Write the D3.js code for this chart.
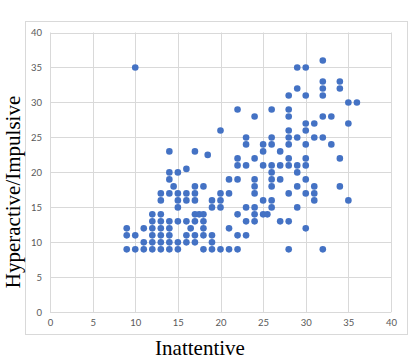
<!DOCTYPE html>
<html>
<head>
<meta charset="utf-8">
<script src="https://cdn.jsdelivr.net/npm/d3@7"></script>
<style>
  html, body { margin: 0; padding: 0; background: #ffffff; }
  svg { display: block; }
</style>
</head>
<body>
<div id="chart"></div>
<script>
// ---- data ----
const inattentive = [
  9,10,11,12,13,14,15,18,19,20,21,22,28,32,
  11,12,13,14,15,16,17,19,
  9,10,12,13,14,16,17,18,19,22,23,
  9,11,12,13,14,16.5,18,21,30,
  12,13,14,15,16,17,18,23,24,27,28,
  12,13,17,17.5,18,22,24,25,25.5,
  15,19,20,23,24,26,29,
  13,15,16,17,19,20,25,26,31,35,
  13,14,15,16,17,20,21,24,28,30,31,
  14.5,17,18,24,26,29,31,34,
  14,21,22,24,26,27,30,
  14,15,26,29,
  16,
  22,23,25,26,27,28,29,30,
  22,24,28,30,34,
  18.5,
  14,17,25,27,
  23,25,26,28,30,33,
  23,26,28,29,31,32,
  20,28,30,
  30,31,35,
  24,28,32,33,
  22,26,28,
  35,36,
  28,30,32,
  29,32,34,
  32,34,
  10,29,30,
  32
];
const hyperactive = [
  9,9,9,9,9,9,9,9,9,9,9,9,9,9,
  10,10,10,10,10,10,10,10,
  11,11,11,11,11,11,11,11,11,11,11,
  12,12,12,12,12,12,12,12,12,
  13,13,13,13,13,13,13,13,13,13,13,
  14,14,14,14,14,14,14,14,14,
  15,15,15,15,15,15,15,
  16,16,16,16,16,16,16,16,16,16,
  17,17,17,17,17,17,17,17,17,17,17,
  18,18,18,18,18,18,18,18,
  19,19,19,19,19,19,19,
  20,20,20,20,
  20.5,
  21,21,21,21,21,21,21,21,
  22,22,22,22,22,
  22.5,
  23,23,23,23,
  24,24,24,24,24,24,
  25,25,25,25,25,25,
  26,26,26,
  27,27,27,
  28,28,28,28,
  29,29,29,
  30,30,
  31,31,31,
  32,32,32,
  33,33,
  35,35,35,
  36
];
const xTicks = [0,5,10,15,20,25,30,35,40];
const yTicks = [0,5,10,15,20,25,30,35,40];
const xTitle = "Inattentive";
const yTitle = "Hyperactive/Impulsive";

// ---- layout ----
const W = 415, H = 362;
const svg = d3.select("#chart").append("svg").attr("width", W).attr("height", H);

const x = d3.scaleLinear().domain([0, 40]).range([50, 391]);
const y = d3.scaleLinear().domain([0, 40]).range([312.3, 32.5]);

// outer chart border
svg.append("rect")
  .attr("x", 25.5).attr("y", 21.5)
  .attr("width", 382).attr("height", 313)
  .attr("fill", "none").attr("stroke", "#d9d9d9").attr("stroke-width", 1);

const grid = svg.append("g");
grid.selectAll("line.h").data(yTicks).enter().append("line")
  .attr("x1", x(0)).attr("x2", x(40))
  .attr("y1", d => Math.round(y(d)) + 0.5).attr("y2", d => Math.round(y(d)) + 0.5)
  .attr("stroke", "#d9d9d9").attr("stroke-width", 1);
grid.selectAll("line.v").data(xTicks).enter().append("line")
  .attr("y1", y(0)).attr("y2", y(40))
  .attr("x1", d => Math.round(x(d)) + 0.5).attr("x2", d => Math.round(x(d)) + 0.5)
  .attr("stroke", "#d9d9d9").attr("stroke-width", 1);

// axes (tick labels only)
const xAxis = d3.axisBottom(x).tickValues(xTicks).tickSize(0).tickPadding(0);
const yAxis = d3.axisLeft(y).tickValues(yTicks).tickSize(0).tickPadding(0);

const gx = svg.append("g").attr("transform", "translate(0,319)").call(xAxis);
gx.select(".domain").remove();
gx.selectAll("text").attr("font-family", "Lato, 'Open Sans', sans-serif")
  .attr("font-size", 9.5).attr("fill", "#595959").attr("dy", "0.71em");

const gy = svg.append("g").attr("transform", "translate(42,0)").call(yAxis);
gy.select(".domain").remove();
gy.selectAll("text").attr("font-family", "Lato, 'Open Sans', sans-serif")
  .attr("font-size", 9.5).attr("fill", "#595959");

// points
const pts = inattentive.map((v, i) => ({ x: v, y: hyperactive[i] }));
svg.append("g").selectAll("circle").data(pts).enter().append("circle")
  .attr("cx", d => x(d.x)).attr("cy", d => y(d.y))
  .attr("r", 3.3).attr("fill", "#4472C4");

// titles
svg.append("text")
  .attr("x", 200).attr("y", 355)
  .attr("text-anchor", "middle")
  .attr("font-family", "'Liberation Serif', 'Times New Roman', serif")
  .attr("font-size", 21).attr("fill", "#000")
  .text(xTitle);

svg.append("text")
  .attr("transform", "translate(20,192) rotate(-90)")
  .attr("text-anchor", "middle")
  .attr("font-family", "'Liberation Serif', 'Times New Roman', serif")
  .attr("font-size", 21).attr("fill", "#000")
  .text(yTitle);
</script>
</body>
</html>
